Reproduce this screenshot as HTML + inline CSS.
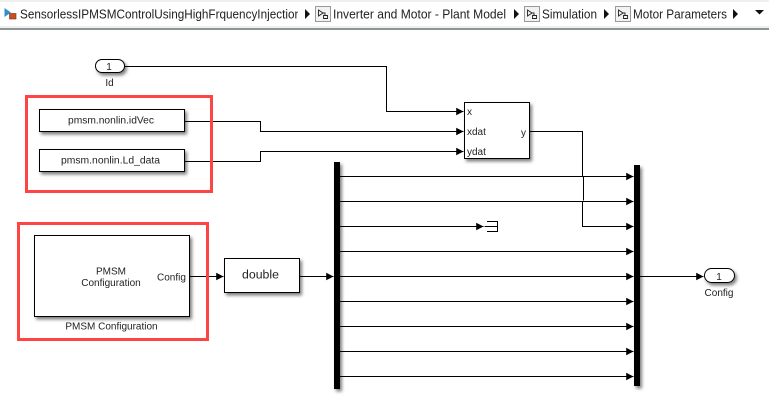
<!DOCTYPE html>
<html>
<head>
<meta charset="utf-8">
<style>
html,body{margin:0;padding:0;background:#fff;width:769px;height:417px;overflow:hidden}
svg{display:block}
text{font-family:"Liberation Sans",sans-serif;fill:#222}
</style>
</head>
<body>
<svg width="769" height="417" viewBox="0 0 769 417" xmlns="http://www.w3.org/2000/svg">
<defs>
<filter id="s" x="-20%" y="-20%" width="140%" height="140%">
<feDropShadow dx="2" dy="2.5" stdDeviation="1.5" flood-color="#000" flood-opacity=".5"/>
</filter>
<marker id="a" markerUnits="userSpaceOnUse" markerWidth="8" markerHeight="9" refX="7.300" refY="4.500" orient="auto">
<path d="M0 .7L7.300 4.500L0 8.300Z" fill="#000"/>
</marker>
<clipPath id="c"><rect x="0" y="0" width="298" height="28"/></clipPath>
</defs>

<!-- breadcrumb bar -->
<rect x="0" y="0" width="769" height="28" fill="#fff"/>
<rect x="0" y="0" width="769" height="2" fill="#f0f0f0"/>
<rect x="0" y="26" width="769" height="2" fill="#f0f0f0"/>
<rect x="0" y="28" width="769" height="2" fill="#8f9496"/>

<path d="M4.500 8L11 12.500L4.500 17Z" fill="#2f8fd0"/>
<rect x="9.500" y="13.500" width="6.500" height="5.500" fill="#c8501e" stroke="#7a3010" stroke-width=".6"/>
<text x="20" y="18.500" font-size="12.500" textLength="281" lengthAdjust="spacingAndGlyphs" clip-path="url(#c)">SensorlessIPMSMControlUsingHighFrquencyInjection</text>
<path d="M305 9L310 14L305 19Z" fill="#111"/>

<g fill="#f2f2f2" stroke="#9a9a9a">
<rect x="315.500" y="6.500" width="15" height="15"/>
<rect x="524.500" y="6.500" width="15" height="15"/>
<rect x="615.500" y="6.500" width="15" height="15"/>
</g>
<g fill="none" stroke="#222" stroke-width=".9">
<path d="M318.500 10L323 13L318.500 16Z M323 13H325V15 M323.500 15.500H327.500V18.500H323.500Z"/>
<path d="M527.500 10L532 13L527.500 16Z M532 13H534V15 M532.500 15.500H536.500V18.500H532.500Z"/>
<path d="M618.500 10L623 13L618.500 16Z M623 13H625V15 M623.500 15.500H627.500V18.500H623.500Z"/>
</g>
<text x="333" y="18.500" font-size="12.500" textLength="173" lengthAdjust="spacingAndGlyphs">Inverter and Motor - Plant Model</text>
<path d="M514 9L519 14L514 19Z" fill="#111"/>
<text x="542" y="18.500" font-size="12.500" textLength="55" lengthAdjust="spacingAndGlyphs">Simulation</text>
<path d="M604 9L609 14L604 19Z" fill="#111"/>
<text x="633" y="18.500" font-size="12.500" textLength="94" lengthAdjust="spacingAndGlyphs">Motor Parameters</text>
<path d="M733 9L738 14L733 19Z" fill="#111"/>
<path d="M755 10H764L759.500 14.500Z" fill="#111"/>

<!-- connectors -->
<g fill="none" stroke="#000" stroke-width="1">
<path d="M124 66.500H386.500V111.500H463.500" marker-end="url(#a)"/>
<path d="M185 121.500H260.500V131.500H463.500" marker-end="url(#a)"/>
<path d="M185 161.500H260.500V151.500H463.500" marker-end="url(#a)"/>
<path d="M530 131.500H582.500V176"/>
<path d="M583.500 177V200.500"/>
<path d="M582.500 201V226.500H633.500" marker-end="url(#a)"/>
<path d="M340 176.500H633.500" marker-end="url(#a)"/>
<path d="M340 201.500H633.500" marker-end="url(#a)"/>
<path d="M340 226.500H483.500" marker-end="url(#a)"/>
<path d="M340 251.500H633.500" marker-end="url(#a)"/>
<path d="M340 276.500H633.500" marker-end="url(#a)"/>
<path d="M340 301.500H633.500" marker-end="url(#a)"/>
<path d="M340 326.500H633.500" marker-end="url(#a)"/>
<path d="M340 351.500H633.500" marker-end="url(#a)"/>
<path d="M340 376.500H633.500" marker-end="url(#a)"/>
<path d="M190 276.500H223.500" marker-end="url(#a)"/>
<path d="M300 276.500H333.500" marker-end="url(#a)"/>
<path d="M640 276.500H703.500" marker-end="url(#a)"/>
<path d="M487 221.500H497.500V231.500H487 M484.500 226.500H497.500"/>
</g>

<!-- blocks -->
<g fill="#fff" stroke="#000" stroke-width="1" filter="url(#s)">
<rect x="95.500" y="59.500" width="29" height="13" rx="6.500"/>
<rect x="39.500" y="109.500" width="145" height="22"/>
<rect x="39.500" y="149.500" width="145" height="22"/>
<rect x="464.500" y="102.500" width="65" height="56"/>
<rect x="34.500" y="235.500" width="155" height="81"/>
<rect x="224.500" y="258.500" width="75" height="34"/>
<rect x="704.500" y="268.500" width="30" height="14" rx="7"/>
</g>
<g filter="url(#s)">
<rect x="334" y="162" width="6" height="227" fill="#000"/>
<rect x="634" y="165" width="6" height="221" fill="#000"/>
</g>

<!-- red highlight boxes -->
<rect x="26.500" y="96.500" width="185" height="95" fill="none" stroke="#ff4444" stroke-width="3"/>
<rect x="18.500" y="223.500" width="189" height="116" fill="none" stroke="#ff4444" stroke-width="3"/>

<!-- labels -->
<g font-size="10">
<text x="109" y="70" text-anchor="middle">1</text>
<text x="109.500" y="86" text-anchor="middle">Id</text>
<text x="111" y="123.500" text-anchor="middle" textLength="86" lengthAdjust="spacingAndGlyphs">pmsm.nonlin.idVec</text>
<text x="110.500" y="163.500" text-anchor="middle" textLength="99" lengthAdjust="spacingAndGlyphs">pmsm.nonlin.Ld_data</text>
<text x="467" y="115">x</text>
<text x="467" y="135">xdat</text>
<text x="467" y="155">ydat</text>
<text x="521" y="136">y</text>
<text x="111" y="274.500" text-anchor="middle">PMSM</text>
<text x="111" y="286" text-anchor="middle">Configuration</text>
<text x="157" y="280.500">Config</text>
<text x="111.500" y="329.500" text-anchor="middle">PMSM Configuration</text>
<text x="719" y="280" text-anchor="middle">1</text>
<text x="719" y="296" text-anchor="middle">Config</text>
</g>
<text x="260.500" y="278.500" font-size="12.300" text-anchor="middle">double</text>
</svg>
</body>
</html>
